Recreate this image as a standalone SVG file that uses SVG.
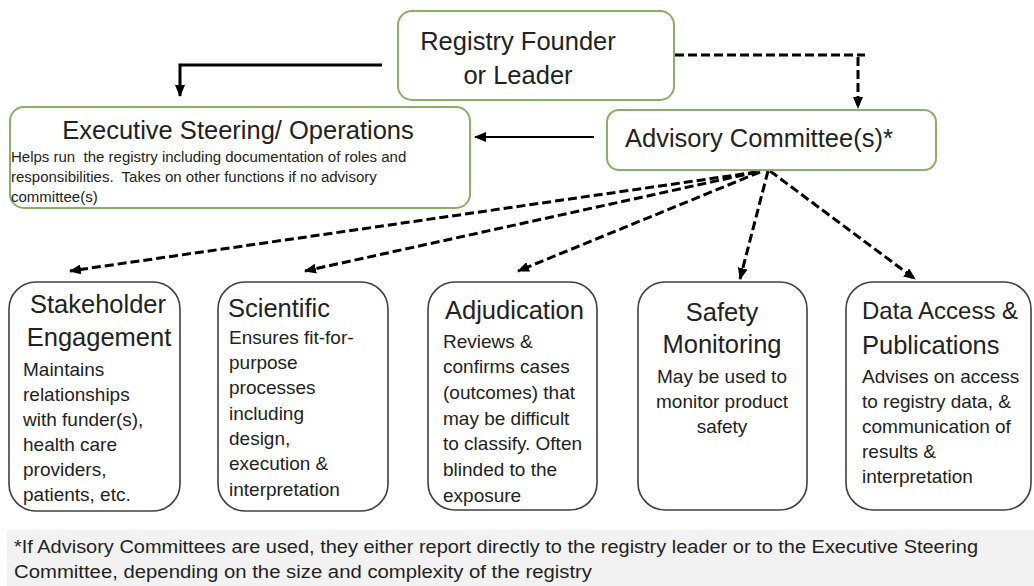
<svg xmlns="http://www.w3.org/2000/svg" width="1034" height="586" viewBox="0 0 1034 586">
<style>
  text { font-family: "Liberation Sans", Arial, sans-serif; fill: #222; }
  .top { fill: #fff; stroke: #8aaf66; stroke-width: 2; }
  .sub { fill: #fff; stroke: #404040; stroke-width: 1.6; }
  .t26 { font-size: 25.5px; }
  .b20 { font-size: 19px; }
  .b14 { font-size: 15px; white-space: pre; }
  .foot { font-size: 17.5px; }
  .solid { fill: none; stroke: #000; stroke-width: 3; }
  .dash { fill: none; stroke: #000; stroke-width: 3; stroke-dasharray: 9 4; }
</style>
<defs>
  <marker id="ah" markerUnits="userSpaceOnUse" markerWidth="12" markerHeight="10" refX="11" refY="5" orient="auto">
    <path d="M0,0 L12,5 L0,10 z" fill="#000"/>
  </marker>
</defs>
<rect width="1034" height="586" fill="#fff"/>

<g id="connectors">
  <polyline class="solid" points="382,65 180,65 180,96" marker-end="url(#ah)"/>
  <line class="solid" x1="594" y1="137" x2="475" y2="137" marker-end="url(#ah)" style="stroke-width:2"/>
  <line class="dash" x1="675" y1="55" x2="865" y2="55"/>
  <line class="dash" x1="858" y1="57" x2="858" y2="108" marker-end="url(#ah)"/>
  <line class="dash" x1="757" y1="172" x2="70" y2="271" marker-end="url(#ah)"/>
  <line class="dash" x1="757" y1="172" x2="305" y2="271" marker-end="url(#ah)"/>
  <line class="dash" x1="760" y1="172" x2="518" y2="271" marker-end="url(#ah)"/>
  <line class="dash" x1="768" y1="171" x2="740" y2="279" marker-end="url(#ah)"/>
  <line class="dash" x1="770" y1="171" x2="915" y2="279" marker-end="url(#ah)"/>
</g>

<g id="founder">
  <rect class="top" x="398" y="11" width="276" height="89" rx="14"/>
  <text class="t26" x="518" y="50" text-anchor="middle">Registry Founder</text>
  <text class="t26" x="518" y="84" text-anchor="middle">or Leader</text>
</g>

<g id="executive">
  <rect class="top" x="10" y="107" width="460" height="101" rx="14"/>
  <text class="t26" x="238" y="139" text-anchor="middle">Executive Steering/ Operations</text>
  <text class="b14" x="11" y="162" xml:space="preserve">Helps run  the registry including documentation of roles and</text>
  <text class="b14" x="11" y="182" xml:space="preserve">responsibilities.  Takes on other functions if no advisory</text>
  <text class="b14" x="11" y="202">committee(s)</text>
</g>

<g id="advisory">
  <rect class="top" x="607" y="110" width="329" height="60" rx="12"/>
  <text class="t26" x="625" y="147">Advisory Committee(s)*</text>
</g>

<g id="stakeholder">
  <rect class="sub" x="9" y="282" width="171" height="229" rx="27"/>
  <text class="t26" x="98" y="313" text-anchor="middle">Stakeholder</text>
  <text class="t26" x="99" y="346" text-anchor="middle">Engagement</text>
  <text class="b20" x="23" y="376">Maintains</text>
  <text class="b20" x="23" y="401">relationships</text>
  <text class="b20" x="23" y="426">with funder(s),</text>
  <text class="b20" x="23" y="451">health care</text>
  <text class="b20" x="23" y="476">providers,</text>
  <text class="b20" x="23" y="501">patients, etc.</text>
</g>

<g id="scientific">
  <rect class="sub" x="218" y="282" width="170" height="229" rx="27"/>
  <text class="t26" x="228" y="317">Scientific</text>
  <text class="b20" x="229" y="344">Ensures fit-for-</text>
  <text class="b20" x="229" y="369">purpose</text>
  <text class="b20" x="229" y="394">processes</text>
  <text class="b20" x="229" y="420">including</text>
  <text class="b20" x="229" y="445">design,</text>
  <text class="b20" x="229" y="470">execution &amp;</text>
  <text class="b20" x="229" y="496">interpretation</text>
</g>

<g id="adjudication">
  <rect class="sub" x="428" y="282" width="169" height="228" rx="27"/>
  <text class="t26" x="445" y="319">Adjudication</text>
  <text class="b20" x="443" y="348">Reviews &amp;</text>
  <text class="b20" x="443" y="373">confirms cases</text>
  <text class="b20" x="443" y="399">(outcomes) that</text>
  <text class="b20" x="443" y="425">may be difficult</text>
  <text class="b20" x="443" y="450">to classify. Often</text>
  <text class="b20" x="443" y="476">blinded to the</text>
  <text class="b20" x="443" y="502">exposure</text>
</g>

<g id="safety">
  <rect class="sub" x="638" y="282" width="169" height="228" rx="27"/>
  <text class="t26" x="722" y="321" text-anchor="middle">Safety</text>
  <text class="t26" x="722" y="353" text-anchor="middle">Monitoring</text>
  <text class="b20" x="722" y="383" text-anchor="middle">May be used to</text>
  <text class="b20" x="722" y="408" text-anchor="middle">monitor product</text>
  <text class="b20" x="722" y="433" text-anchor="middle">safety</text>
</g>

<g id="data-access">
  <rect class="sub" x="846" y="282" width="185" height="228" rx="27"/>
  <text class="t26" x="862" y="319" style="font-size:24px">Data Access &amp;</text>
  <text class="t26" x="862" y="354">Publications</text>
  <text class="b20" x="862" y="383">Advises on access</text>
  <text class="b20" x="862" y="408">to registry data, &amp;</text>
  <text class="b20" x="862" y="433">communication of</text>
  <text class="b20" x="862" y="458">results &amp;</text>
  <text class="b20" x="862" y="483">interpretation</text>
</g>

<g id="footnote">
  <rect x="7" y="530" width="1027" height="56" fill="#f2f2f2"/>
  <text class="foot" x="14" y="553" textLength="964" lengthAdjust="spacingAndGlyphs">*If Advisory Committees are used, they either report directly to the registry leader or to the Executive Steering</text>
  <text class="foot" x="14" y="578" textLength="578" lengthAdjust="spacingAndGlyphs">Committee, depending on the size and complexity of the registry</text>
</g>
</svg>
